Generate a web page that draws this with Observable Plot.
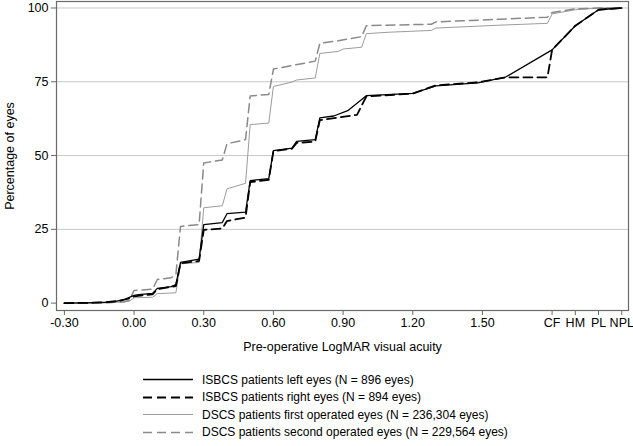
<!DOCTYPE html>
<html><head><meta charset="utf-8">
<script src="https://cdn.jsdelivr.net/npm/d3@7"></script>
<script src="https://cdn.jsdelivr.net/npm/@observablehq/plot@0.6"></script>
<style>
body{margin:0;background:#fff;font-family:"Liberation Sans",Arial,sans-serif;}
#legend{padding-left:143px;padding-top:13px;font-size:12px;color:#000}
.row{display:flex;align-items:center;height:17.5px;white-space:nowrap}
.row svg{width:50px;height:15px;margin-right:9px;flex:none}
</style></head><body>
<div id="chart"></div><div id="legend"></div>
<script>
// Axis ticks
const xTickValues = [-0.3, 0, 0.3, 0.6, 0.9, 1.2, 1.5, 1.8, 1.9, 2.0, 2.1];
const xTickLabels = ["-0.30","0.00","0.30","0.60","0.90","1.20","1.50","CF","HM","PL","NPL"];
const yTickValues = [0, 25, 50, 75, 100];
const yGridValues = [25, 50, 75, 100];

// Series names
const seriesNames = [
  "ISBCS patients left eyes (N = 896 eyes)",
  "ISBCS patients right eyes (N = 894 eyes)",
  "DSCS patients first operated eyes (N = 236,304 eyes)",
  "DSCS patients second operated eyes (N = 229,564 eyes)"
];

// ISBCS left eyes
const isbcsLeftX = [-0.30,-0.20,-0.12,-0.08,-0.04,0.00,0.02,0.08,0.10,0.16,0.18,0.20,0.28,0.30,0.38,0.40,0.48,0.50,0.58,0.60,0.68,0.70,0.78,0.80,0.86,0.92,1.00,1.20,1.30,1.48,1.60,1.80,1.90,2.00,2.10];
const isbcsLeftY = [0,0.1,0.3,0.6,1.3,2.6,2.9,3.3,5.0,5.6,6.3,13.8,14.9,26.6,27.3,30.3,30.8,41.5,42.2,51.7,52.5,54.8,55.4,62.8,63.4,65.2,70.3,71.1,73.6,74.6,76.6,85.8,94.0,99.4,100];

// ISBCS right eyes
const isbcsRightX = [-0.30,-0.20,-0.12,-0.06,-0.02,0.00,0.08,0.10,0.18,0.20,0.28,0.30,0.38,0.40,0.48,0.50,0.58,0.60,0.68,0.70,0.78,0.80,0.96,1.00,1.20,1.30,1.48,1.60,1.78,1.80,1.90,2.00,2.10];
const isbcsRightY = [0,0.1,0.3,0.8,1.6,2.3,3.0,4.7,5.8,13.5,14.3,24.8,25.3,27.8,29.0,41.0,41.8,51.5,52.3,54.3,54.7,62.0,63.8,70.0,71.0,73.8,74.8,76.5,76.5,85.8,94.0,99.4,100];

// DSCS first operated eyes
const dscsFirstX = [-0.30,-0.12,-0.04,-0.02,0.00,0.08,0.10,0.18,0.20,0.28,0.30,0.38,0.40,0.48,0.50,0.58,0.60,0.68,0.70,0.78,0.80,0.88,0.90,0.98,1.00,1.10,1.28,1.30,1.58,1.78,1.80,1.90,2.00,2.10];
const dscsFirstY = [0,0.1,0.4,0.7,1.8,2.0,3.2,3.5,13.3,13.8,32.3,33.0,38.7,40.6,60.5,61.0,73.4,74.9,75.6,76.3,84.6,85.3,86.1,86.7,91.3,91.8,92.4,93.2,94.2,94.8,98.0,99.4,100,100];

// DSCS second operated eyes
const dscsSecondX = [-0.30,-0.12,-0.04,-0.02,0.00,0.08,0.10,0.16,0.18,0.20,0.28,0.30,0.38,0.40,0.48,0.50,0.58,0.60,0.68,0.78,0.80,0.88,0.98,1.00,1.28,1.30,1.58,1.78,1.80,1.90,2.00,2.10];
const dscsSecondY = [0,0.1,0.5,1.0,4.3,4.7,8.0,8.6,9.6,26.0,26.6,47.5,48.5,54.0,55.4,70.2,70.7,79.3,80.5,82.0,88.0,88.9,90.3,94.0,94.5,95.3,96.2,96.9,98.5,99.7,100,100];

const styles = [
  {stroke:"#000000", strokeWidth:1.3, dash:null},
  {stroke:"#000000", strokeWidth:1.8, dash:"9,5"},
  {stroke:"#9c9c9c", strokeWidth:1.0, dash:null},
  {stroke:"#8a8a8a", strokeWidth:1.5, dash:"9,5"}
];

const toRows = (xs, ys) => xs.map((x, i) => ({x, y: ys[i]}));
const seriesData = [
  toRows(isbcsLeftX, isbcsLeftY),
  toRows(isbcsRightX, isbcsRightY),
  toRows(dscsFirstX, dscsFirstY),
  toRows(dscsSecondX, dscsSecondY)
];

const labelMap = new Map(xTickValues.map((v, i) => [v, xTickLabels[i]]));
const drawOrder = [2, 3, 0, 1];

const chart = Plot.plot({
  width: 633, height: 358,
  marginLeft: 56, marginRight: 5, marginTop: 1, marginBottom: 48,
  style: {fontFamily: "Liberation Sans, Arial, sans-serif", fontSize: "12.5px", color: "#000", background: "#fff"},
  x: {domain: [-0.334, 2.129]},
  y: {domain: [-2.5, 102.2]},
  marks: [
    Plot.gridY(yGridValues, {stroke: "#c8c8c8", strokeOpacity: 1, strokeWidth: 1}),
    ...drawOrder.map(k => Plot.line(seriesData[k], {
      x: "x", y: "y", stroke: styles[k].stroke, strokeWidth: styles[k].strokeWidth,
      strokeDasharray: styles[k].dash || undefined
    })),
    Plot.frame({stroke: "#6a6a6a", strokeWidth: 1.2}),
    Plot.axisX(xTickValues, {tickFormat: d => labelMap.get(d), tickSize: 5, tickPadding: 3, stroke: "#6a6a6a",
      label: "Pre-operative LogMAR visual acuity", labelAnchor: "center", labelArrow: "none", labelOffset: 40}),
    Plot.axisY(yTickValues, {tickSize: 5, tickPadding: 3, stroke: "#6a6a6a",
      label: "Percentage of eyes", labelAnchor: "center", labelArrow: "none", labelOffset: 51})
  ]
});
document.getElementById("chart").appendChild(chart);

// Legend
const legend = d3.select("#legend");
seriesNames.forEach((name, i) => {
  const row = legend.append("div").attr("class", "row");
  const svg = row.append("svg").attr("viewBox", "0 0 50 15");
  svg.append("line").attr("x1", 0).attr("x2", 50).attr("y1", 7.5).attr("y2", 7.5)
    .attr("stroke", styles[i].stroke).attr("stroke-width", styles[i].strokeWidth)
    .attr("stroke-dasharray", styles[i].dash);
  row.append("span").text(name);
});
</script>
</body></html>
